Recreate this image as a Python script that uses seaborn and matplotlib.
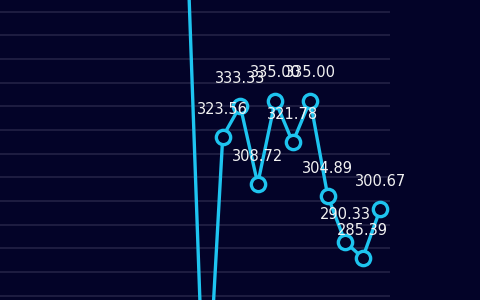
import numpy as np
import pandas as pd
import matplotlib
matplotlib.use("Agg")
import matplotlib.pyplot as plt
import seaborn as sns

# ---- data (first two points run off the visible area) ----
points = list(range(12))
values = [379.5, 224.7, 323.56, 333.33, 308.72, 335.00, 321.78, 335.00,
          304.89, 290.33, 285.39, 300.67]
show_label = [False, False, True, True, True, True, True, True, True, True, True, True]

BG = "#030328"
GRID = "#232246"
LINE = "#1ec4ef"

sns.set_theme(style="dark")
plt.rcParams["font.family"] = ["DejaVu Sans"]

fig = plt.figure(figsize=(4.8, 3.0), dpi=100)
fig.patch.set_facecolor(BG)
ax = fig.add_axes([0, 0, 390 / 480, 1])
ax.set_facecolor(BG)

df = pd.DataFrame({"point": points, "value": values})
sns.lineplot(data=df, x="point", y="value", ax=ax, color=LINE, linewidth=2.4,
             marker="o", markersize=10.3, markerfacecolor=BG,
             markeredgecolor=LINE, markeredgewidth=2.4, zorder=3)

for x, v, s in zip(points, values, show_label):
    if s:
        ax.annotate(f"{v:.2f}", (x, v), xytext=(0, 16.6), textcoords="offset points",
                    ha="center", va="baseline", color="#f2f2f2", fontsize=10.5,
                    zorder=5)

# visible window of the (cropped) chart
ax.set_xlim(-10.73, 11.56)
ytop = 335 + 100.5 / 3.169
ybot = 335 - 199.5 / 3.169
ax.set_ylim(ybot, ytop)
g0 = 335 - (11.7 - 100.5) / 3.169
g1 = 335 - (295.7 - 100.5) / 3.169
ax.set_yticks(np.linspace(g0, g1, 13))
ax.yaxis.grid(True, color=GRID, linewidth=1.2)
ax.xaxis.grid(False)
ax.set_axisbelow(True)
ax.tick_params(length=0, labelleft=False, labelbottom=False)
ax.set_xlabel("")
ax.set_ylabel("")
for sp in ax.spines.values():
    sp.set_visible(False)

fig.savefig("out.png", dpi=100, facecolor=BG)
